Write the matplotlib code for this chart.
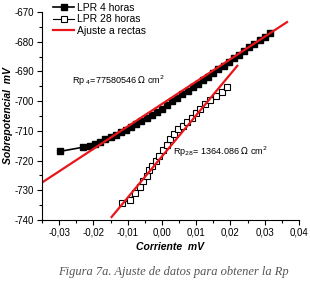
import numpy as np
import matplotlib
matplotlib.use("Agg")
import matplotlib.pyplot as plt
from matplotlib.ticker import MultipleLocator, FuncFormatter

plt.rcParams['font.family'] = ['Liberation Sans Narrow', 'Liberation Sans', 'DejaVu Sans']

# LPR 4 horas (corriente, sobrepotencial)
i_4h = [-0.0297, -0.0230, -0.0210, -0.0195, -0.0180, -0.0165, -0.0150, -0.0135,
        -0.0120, -0.0105, -0.0090, -0.0075, -0.0060, -0.0045, -0.0030, -0.0015,
        0.0000, 0.0015, 0.0030, 0.0045, 0.0060, 0.0075, 0.0090, 0.0105,
        0.0120, 0.0135, 0.0150, 0.0165, 0.0180, 0.0195, 0.0210, 0.0225,
        0.0240, 0.0255, 0.0270, 0.0285, 0.0300, 0.0315]
e_4h = [-716.9, -715.5, -715.0, -714.4, -713.6, -712.8, -712.1, -711.4,
        -710.5, -709.7, -708.8, -707.8, -706.8, -705.8, -704.7, -703.6,
        -702.5, -701.2, -700.1, -698.9, -697.7, -696.5, -695.4, -694.1,
        -692.9, -691.8, -690.5, -689.3, -688.1, -686.8, -685.6, -684.4,
        -683.1, -681.9, -680.7, -679.4, -678.3, -677.2]

# LPR 28 horas
i_28h = [-0.0117, -0.0093, -0.0079, -0.0064, -0.0054, -0.0045, -0.0037, -0.0028,
         -0.0018, -0.0008, 0.0004, 0.0014, 0.0023, 0.0035, 0.0048, 0.0061,
         0.0074, 0.0087, 0.0099, 0.0111, 0.0126, 0.0140, 0.0158, 0.0174, 0.0189]
e_28h = [-734.3, -733.2, -730.9, -728.9, -727.0, -725.1, -723.3, -721.7,
         -720.2, -718.5, -716.5, -714.6, -712.9, -710.9, -709.5, -708.4,
         -707.1, -705.6, -703.9, -702.5, -701.1, -699.6, -698.3, -696.9, -695.1]

# Ajuste a rectas (extremos de cada recta)
fit4_i = [-0.0350, 0.0365]
fit4_e = [-727.4, -673.4]
fit28_i = [-0.0147, 0.0220]
fit28_e = [-739.0, -688.1]

rp4_label = r'Rp$_{\ 4}$=77580546 $\Omega$ cm$^2$'
rp28_label = r'Rp$_{28}$= 1364.086 $\Omega$ cm$^2$'

fig = plt.figure(figsize=(3.10, 2.87), dpi=100)
ax = fig.add_axes([42 / 310, 1 - 220 / 287, 257 / 310, 208 / 287])

ax.plot(i_4h, e_4h, '-s', color='black', lw=1.2, ms=4.2, label='LPR 4 horas')
ax.plot(i_28h, e_28h, '-s', color='black', lw=0.8, ms=5, mfc='white',
        mec='black', mew=0.8, label='LPR 28 horas')
ax.plot(fit4_i, fit4_e, color='#e8161b', lw=1.6, label='Ajuste a rectas')
ax.plot(fit28_i, fit28_e, color='#e8161b', lw=1.6)

ax.set_xlim(-0.035, 0.04)
ax.set_ylim(-740, -670)
ax.xaxis.set_major_locator(MultipleLocator(0.01))
ax.xaxis.set_minor_locator(MultipleLocator(0.005))
ax.yaxis.set_major_locator(MultipleLocator(10))
ax.yaxis.set_minor_locator(MultipleLocator(5))
ax.xaxis.set_major_formatter(FuncFormatter(lambda v, p: ('%.2f' % v).replace('.', ',').replace('-0,00', '0,00')))
ax.yaxis.set_major_formatter(FuncFormatter(lambda v, p: '%d' % v))
ax.tick_params(which='major', direction='out', length=3.5, width=0.8, labelsize=7, pad=2)
ax.tick_params(which='minor', direction='out', length=2, width=0.8)
for s in ['top', 'right']:
    ax.spines[s].set_visible(False)
for s in ['left', 'bottom']:
    ax.spines[s].set_linewidth(0.8)

ax.set_xlabel('Corriente  mV', fontsize=7.5, fontweight='bold', fontstyle='italic', labelpad=3)
ax.set_ylabel('Sobrepotencial  mV', fontsize=7.5, fontweight='bold', fontstyle='italic', labelpad=1)

ax.text(-0.0263, -693.2, rp4_label, fontsize=6.5, va='center', ha='left')
ax.text(0.0031, -717.2, rp28_label, fontsize=6.5, va='center', ha='left')

ax.legend(loc='upper left', bbox_to_anchor=(0.02, 1.075), frameon=False, fontsize=7.5,
          handlelength=2.0, handletextpad=0.3, labelspacing=0.15, borderaxespad=0.2)

fig.text(0.56, 1 - 272 / 287, 'Figura 7a. Ajuste de datos para obtener la Rp',
         fontsize=9, fontstyle='italic', family='Liberation Serif', color='#555555',
         ha='center', va='center')

fig.savefig('out.png', dpi=100)
